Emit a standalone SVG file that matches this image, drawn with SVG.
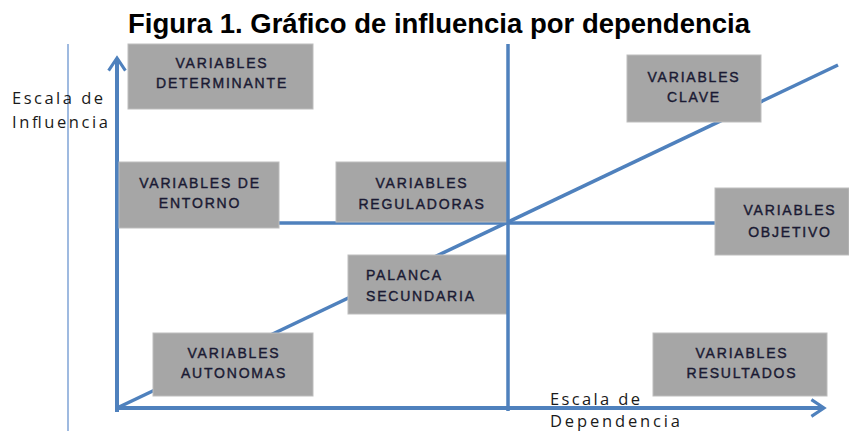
<svg xmlns="http://www.w3.org/2000/svg" width="849" height="431" viewBox="0 0 849 431">
<style>
.ax{stroke:#4f81bd;stroke-width:4;fill:none;stroke-linecap:butt}
.ln{stroke:#4f81bd;stroke-width:3.5;fill:none}
.thin{stroke:#7fa3d6;stroke-width:1.5;fill:none}
.box{fill:#a6a6a6;stroke:#bdbdbd;stroke-width:1}
.bt{font-family:"Liberation Sans",Arial,sans-serif;font-size:14px;fill:#1a1a33;stroke:#1a1a33;stroke-width:0.4;text-anchor:middle;letter-spacing:1.8px}
.lab{font-family:"Open Sans","Liberation Sans",sans-serif;font-size:16.5px;fill:#1a1a1a}
.title{font-family:"Liberation Sans",Arial,sans-serif;font-size:27px;font-weight:bold;fill:#000}
</style>
<defs>
<marker id="arr" viewBox="0 0 12 14" refX="10" refY="7" markerWidth="4.2" markerHeight="5" orient="auto" markerUnits="strokeWidth">
<path d="M1,1 L10,7 L1,13" fill="none" stroke="#4f81bd" stroke-width="2.2"/>
</marker>
</defs>
<rect width="849" height="431" fill="#fff"/>
<text class="title" x="128" y="33" textLength="622" lengthAdjust="spacingAndGlyphs">Figura 1. Gráfico de influencia por dependencia</text>
<g id="connectors">
<line class="thin" x1="68" y1="44" x2="68" y2="431"/>
<line class="ln" x1="117" y1="408" x2="838" y2="65"/>
<line class="ln" x1="117" y1="223" x2="716" y2="223"/>
<line class="ax" x1="117" y1="412" x2="117" y2="58" marker-end="url(#arr)"/>
<line class="ax" x1="115" y1="408" x2="824" y2="408" marker-end="url(#arr)"/>
</g>
<g id="n-determinante"><rect class="box" x="128" y="44" width="185" height="65"/><text class="bt" x="222" y="68">VARIABLES</text><text class="bt" x="222" y="88">DETERMINANTE</text></g>
<g id="n-entorno"><rect class="box" x="119" y="162" width="160" height="66"/><text class="bt" x="200" y="188">VARIABLES DE</text><text class="bt" x="200" y="208">ENTORNO</text></g>
<g id="n-reguladoras"><rect class="box" x="336" y="162" width="171" height="60"/><text class="bt" x="422" y="188">VARIABLES</text><text class="bt" x="422" y="209">REGULADORAS</text></g>
<g id="n-clave"><rect class="box" x="627" y="55" width="134" height="67"/><text class="bt" x="694" y="82">VARIABLES</text><text class="bt" x="694" y="102">CLAVE</text></g>
<g id="n-objetivo"><rect class="box" x="715" y="188" width="134" height="67"/><text class="bt" x="790" y="215">VARIABLES</text><text class="bt" x="790" y="237">OBJETIVO</text></g>
<g id="n-palanca"><rect class="box" x="348" y="255" width="160" height="59"/><text class="bt" x="366" y="280" style="text-anchor:start">PALANCA</text><text class="bt" x="366" y="301" style="text-anchor:start">SECUNDARIA</text></g>
<g id="n-autonomas"><rect class="box" x="153" y="333" width="160" height="63"/><text class="bt" x="234" y="358">VARIABLES</text><text class="bt" x="234" y="378">AUTONOMAS</text></g>
<g id="n-resultados"><rect class="box" x="653" y="333" width="174" height="63"/><text class="bt" x="742" y="358">VARIABLES</text><text class="bt" x="742" y="378">RESULTADOS</text></g>
<g id="middle"><line class="ln" x1="508" y1="44" x2="508" y2="411"/></g>
<g id="labels">
<text class="lab" x="12" y="104" textLength="91">Escala de</text>
<text class="lab" x="12" y="128" textLength="96">Influencia</text>
<text class="lab" x="550" y="405" textLength="90">Escala de</text>
<text class="lab" x="550" y="427" textLength="130">Dependencia</text>
</g>
</svg>
